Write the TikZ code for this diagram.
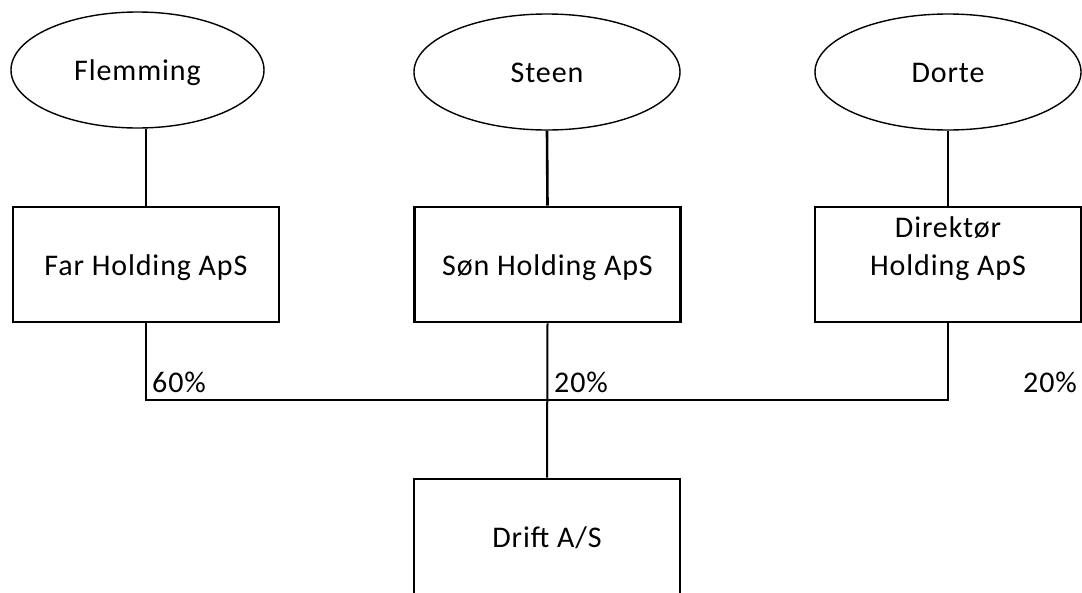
\documentclass[tikz,border=0pt]{standalone}
\usepackage{fontspec}
\setmainfont{Carlito}[LetterSpace=3]
\usetikzlibrary{shapes.geometric}
\begin{document}
\begin{tikzpicture}[x=1pt,y=-1pt]
        \tikzstyle{every node}+=[inner sep=0pt, font=\fontsize{30}{38}\selectfont]
        \tikzstyle{person}=[draw, ellipse, line width=1.4pt, minimum height=116pt, text height=21pt, text depth=0pt]
        \tikzstyle{company}=[draw, rectangle, line width=2.6pt, minimum width=266pt, minimum height=115pt, text height=21pt, text depth=0pt]
        \tikzstyle{link}=[line width=2.6pt]
        \tikzstyle{bar}=[line width=2pt]
        \useasboundingbox (0,0) rectangle (1082,592);
        \clip (0,0) rectangle (1082,592);
        % owners
        \node [person, minimum width=253pt] (flemming) at (137.5,70) {Flemming};
        \node [person, minimum width=266pt] (steen) at (547,72) {Steen};
        \node [person, minimum width=266pt] (dorte) at (948,72) {Dorte};
        % holding companies
        \node [company] (far) at (146,264.5) {Far Holding ApS};
        \node [company] (son) at (547.5,264.5) {Søn Holding ApS};
        \node [company, align=center] (direktor) at (948,264.5) {Direktør\\Holding ApS};
        \node [company] (drift) at (547,536.5) {Drift A/S};
        % ownership lines
        \draw [link] (far.north) -- (far.north |- flemming.south);
        \draw [link] (son.north) -- (steen.south);
        \draw [link] (direktor.north) -- (dorte.south);
        \coordinate (joint) at (547,400);
        \draw [bar] (far.south) -- (far.south |- joint) -- (direktor.south |- joint) -- (direktor.south);
        \draw [bar] (son.south) -- (drift.north);
        \node [anchor=base west] (farshare) at (152,392) {60\%};
        \node [anchor=base west] (sonshare) at (554,392) {20\%};
        \node [anchor=base west] (direktorshare) at (1023,392) {20\%};
\end{tikzpicture}
\end{document}
